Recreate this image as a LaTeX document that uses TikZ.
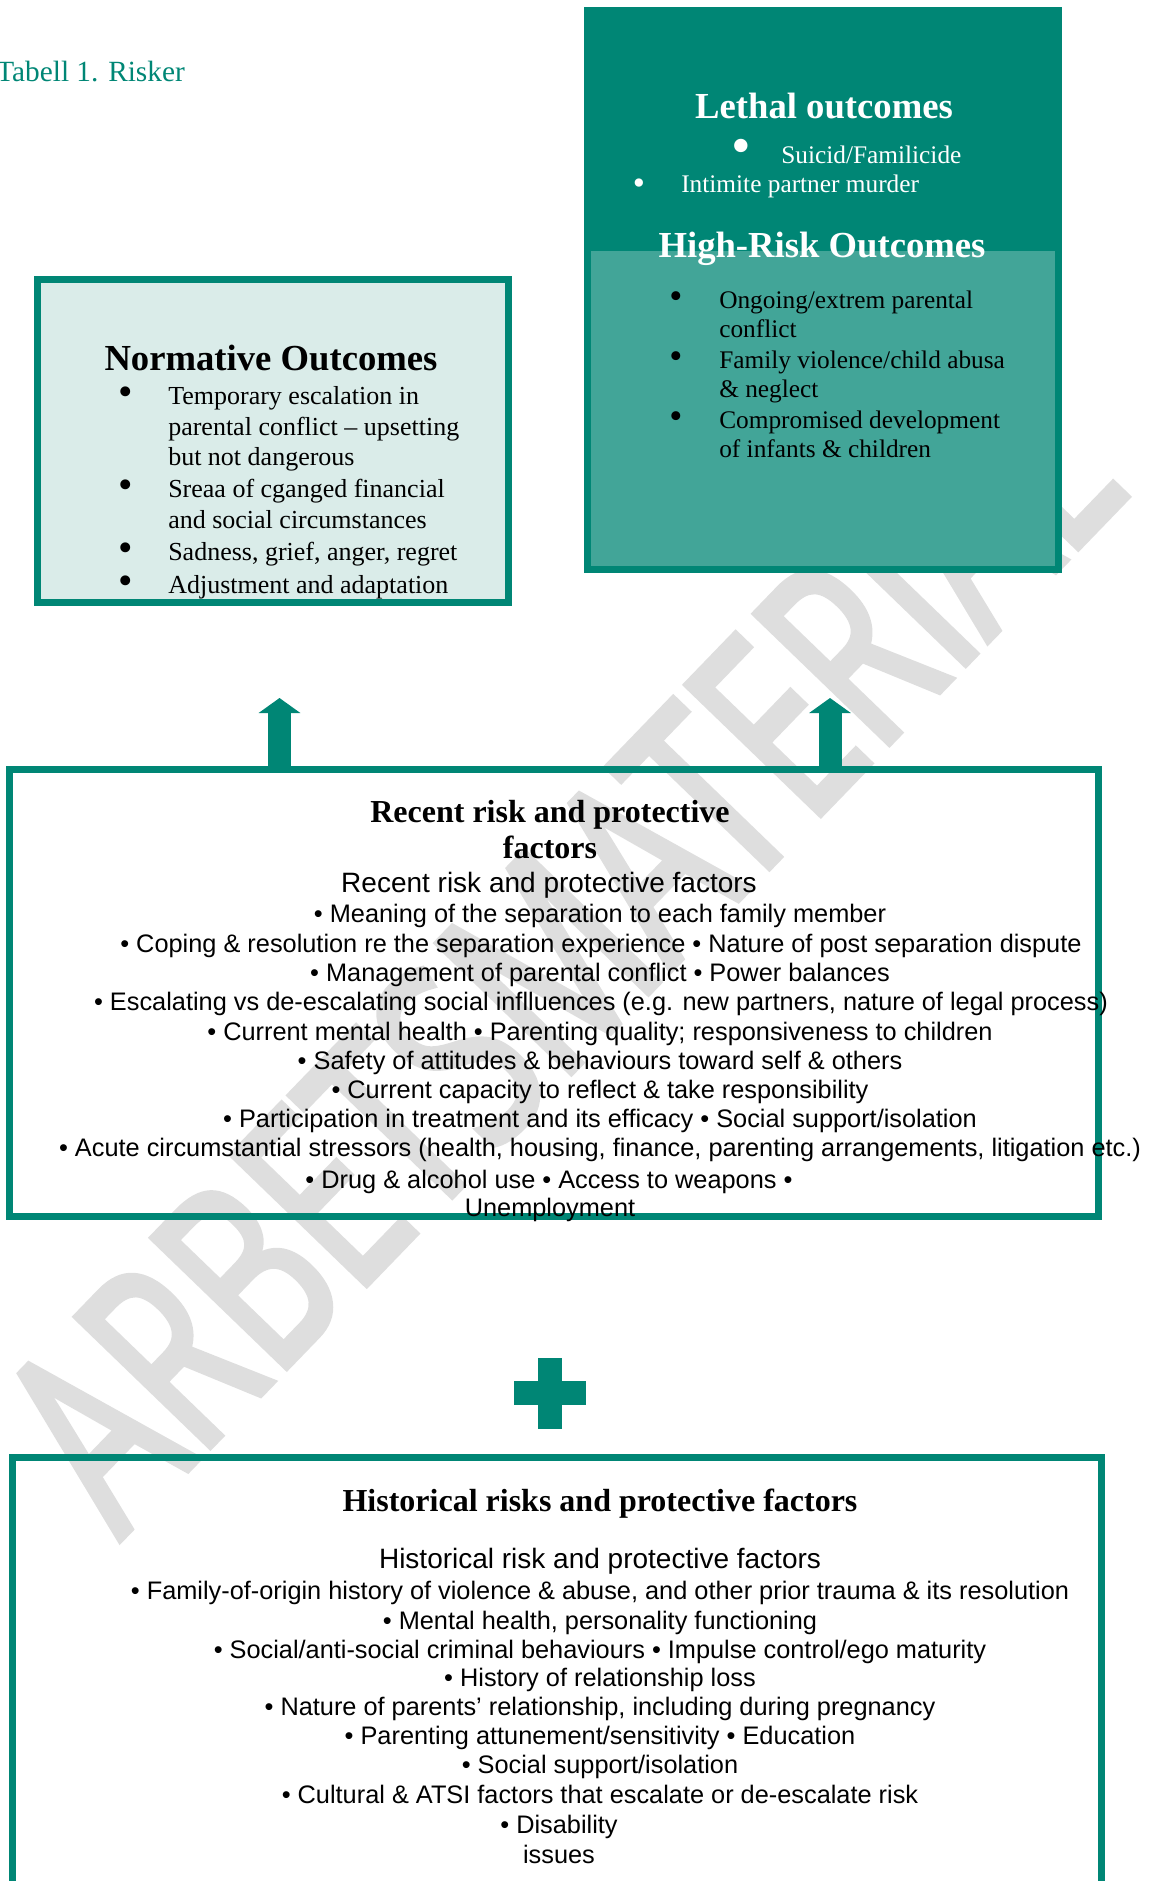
\documentclass[tikz,border=0pt]{standalone}
\usepackage{fontspec}
\setmainfont{Liberation Serif}
\setsansfont{Liberation Sans}
\newfontfamily\markfont[FakeStretch=0.68,FakeBold=2.5]{Open Sans}
\usepackage{xcolor}
\usetikzlibrary{arrows.meta}

\definecolor{tealdark}{RGB}{0,134,117}
\definecolor{teallight}{RGB}{66,165,152}
\definecolor{mintfill}{RGB}{218,236,233}
\definecolor{markgray}{RGB}{222,222,222}

\tikzset{
  lbl/.style={inner sep=0pt, anchor=base},
  lblw/.style={inner sep=0pt, anchor=base west},
  dot/.style={inner sep=0pt, anchor=center},
  boxframe/.style={draw=tealdark, line width=5.3pt, inner sep=0pt, outer sep=0pt},
  uparrow/.style={draw=tealdark, line width=17.25pt, -{Triangle[width=30.75pt,length=11.25pt]}},
  headfont/.style={font=\fontsize{27.5}{33}\selectfont\bfseries},
  boxheadfont/.style={font=\fontsize{24}{29}\selectfont\bfseries},
  itemfont/.style={font=\fontsize{19.5}{23}\selectfont},
  smallitemfont/.style={font=\fontsize{19}{23}\selectfont},
  subfont/.style={font=\sffamily\fontsize{21}{25}\selectfont},
  linefont/.style={font=\sffamily\fontsize{19}{22}\selectfont}
}

\begin{document}
\begin{tikzpicture}[x=0.75pt,y=0.75pt,yscale=-1,xscale=1]
\useasboundingbox (0,0) rectangle (1160,1881);
\clip (0,0) rectangle (1160,1881);

% watermark
\draw (120,1540) node (wm) [lblw, rotate=46, text=markgray, font=\markfont\fontsize{196}{196}\selectfont] {ARBETSMATERIAL};

% boxes
\draw (273,441) node (norm) [boxframe, line width=5.6pt, fill=mintfill, minimum width=353.25pt, minimum height=241.9pt] {};
\draw (823,290) node (high) [boxframe, fill=teallight, minimum width=353.25pt, minimum height=419.25pt] {};
\draw (823,129) node (lethal) [fill=tealdark, inner sep=0pt, outer sep=0pt, minimum width=358.5pt, minimum height=183pt] {};
\draw (554,993) node (recent) [boxframe, minimum width=817.1pt, minimum height=335.6pt] {};
\draw (557,1704) node (hist) [boxframe, minimum width=816.75pt, minimum height=369.4pt] {};

% arrows and plus
\coordinate (tipL) at (279.5,698);
\coordinate (tipR) at (830,698);
\draw [uparrow] (recent.north -| tipL) -- (tipL);
\draw [uparrow] (recent.north -| tipR) -- (tipR);
\fill [tealdark] (538,1358) rectangle (562,1429);
\fill [tealdark] (514,1381) rectangle (586,1405);

% title
\draw (-4,81) node (title) [lblw, text=tealdark, font=\fontsize{22}{26}\selectfont] {Tabell 1. Risker};

% lethal
\draw (824,118) node (lethhead) [lbl, text=white, headfont] {Lethal outcomes};
\draw (741,152) node (lethb1) [dot, text=white, font=\fontsize{42}{42}\selectfont] {\textbullet};
\draw (781,163) node (leth1) [lblw, text=white, smallitemfont] {Suicid/Familicide};
\draw (639,187) node (lethb2) [dot, text=white, font=\fontsize{26}{26}\selectfont] {\textbullet};
\draw (681,192) node (leth2) [lblw, text=white, smallitemfont] {Intimite partner murder};

% high-risk
\draw (822,257) node (highhead) [lbl, text=white, headfont] {High-Risk Outcomes};
\draw (676,300) node (highb1) [dot, font=\fontsize{28}{28}\selectfont] {\textbullet};
\draw (676,360) node (highb2) [dot, font=\fontsize{28}{28}\selectfont] {\textbullet};
\draw (676,420) node (highb3) [dot, font=\fontsize{28}{28}\selectfont] {\textbullet};
\draw (719,308) node (high1) [lblw, smallitemfont] {Ongoing/extrem parental};
\draw (719,337) node (high2) [lblw, smallitemfont] {conflict};
\draw (719,368) node (high3) [lblw, smallitemfont] {Family violence/child abusa};
\draw (719,397) node (high4) [lblw, smallitemfont] {\& neglect};
\draw (719,428) node (high5) [lblw, smallitemfont] {Compromised development};
\draw (719,457) node (high6) [lblw, smallitemfont] {of infants \& children};

% normative
\draw (271,370) node (normhead) [lbl, headfont] {Normative Outcomes};
\draw (126,396) node (normb1) [dot, font=\fontsize{31}{31}\selectfont] {\textbullet};
\draw (126,489) node (normb2) [dot, font=\fontsize{31}{31}\selectfont] {\textbullet};
\draw (126,552) node (normb3) [dot, font=\fontsize{31}{31}\selectfont] {\textbullet};
\draw (126,585) node (normb4) [dot, font=\fontsize{31}{31}\selectfont] {\textbullet};
\draw (168,404) node (norm1) [lblw, itemfont] {Temporary escalation in};
\draw (168,435) node (norm2) [lblw, itemfont] {parental conflict – upsetting};
\draw (168,465) node (norm3) [lblw, itemfont] {but not dangerous};
\draw (168,497) node (norm4) [lblw, itemfont] {Sreaa of cganged financial};
\draw (168,528) node (norm5) [lblw, itemfont] {and social circumstances};
\draw (168,560) node (norm6) [lblw, itemfont] {Sadness, grief, anger, regret};
\draw (168,593) node (norm7) [lblw, itemfont] {Adjustment and adaptation};

% recent factors
\draw (550,822) node (rechead1) [lbl, boxheadfont] {Recent risk and protective};
\draw (550,858) node (rechead2) [lbl, boxheadfont] {factors};
\draw (549,892) node (recsub) [lbl, subfont] {Recent risk and protective factors};
\draw (600,922) node (rec1) [lbl, linefont] {\textbullet\ Meaning of the separation to each family member};
\draw (601,952) node (rec2) [lbl, linefont] {\textbullet\ Coping \& resolution re the separation experience \textbullet\ Nature of post separation dispute};
\draw (600,981) node (rec3) [lbl, linefont] {\textbullet\ Management of parental conflict \textbullet\ Power balances};
\draw (601,1010) node (rec4) [lbl, linefont] {\textbullet\ Escalating vs de-escalating social inflluences (e.g. new partners, nature of legal process)};
\draw (600,1040) node (rec5) [lbl, linefont] {\textbullet\ Current mental health \textbullet\ Parenting quality; responsiveness to children};
\draw (600,1069) node (rec6) [lbl, linefont] {\textbullet\ Safety of attitudes \& behaviours toward self \& others};
\draw (600,1098) node (rec7) [lbl, linefont] {\textbullet\ Current capacity to reflect \& take responsibility};
\draw (600,1127) node (rec8) [lbl, linefont] {\textbullet\ Participation in treatment and its efficacy \textbullet\ Social support/isolation};
\draw (600,1156) node (rec9) [lbl, linefont] {\textbullet\ Acute circumstantial stressors (health, housing, finance, parenting arrangements, litigation etc.)};
\draw (549,1188) node (rec10) [lbl, linefont] {\textbullet\ Drug \& alcohol use \textbullet\ Access to weapons \textbullet};
\draw (550,1216) node (rec11) [lbl, linefont] {Unemployment};

% historical factors
\draw (600,1511) node (histhead) [lbl, boxheadfont] {Historical risks and protective factors};
\draw (600,1568) node (histsub) [lbl, subfont] {Historical risk and protective factors};
\draw (600,1599) node (hist1) [lbl, linefont] {\textbullet\ Family-of-origin history of violence \& abuse, and other prior trauma \& its resolution};
\draw (600,1629) node (hist2) [lbl, linefont] {\textbullet\ Mental health, personality functioning};
\draw (600,1658) node (hist3) [lbl, linefont] {\textbullet\ Social/anti-social criminal behaviours \textbullet\ Impulse control/ego maturity};
\draw (600,1686) node (hist4) [lbl, linefont] {\textbullet\ History of relationship loss};
\draw (600,1715) node (hist5) [lbl, linefont] {\textbullet\ Nature of parents’ relationship, including during pregnancy};
\draw (600,1744) node (hist6) [lbl, linefont] {\textbullet\ Parenting attunement/sensitivity \textbullet\ Education};
\draw (600,1773) node (hist7) [lbl, linefont] {\textbullet\ Social support/isolation};
\draw (600,1803) node (hist8) [lbl, linefont] {\textbullet\ Cultural \& ATSI factors that escalate or de-escalate risk};
\draw (559,1833) node (hist9) [lbl, linefont] {\textbullet\ Disability};
\draw (559,1863) node (hist10) [lbl, linefont] {issues};
\end{tikzpicture}
\end{document}
